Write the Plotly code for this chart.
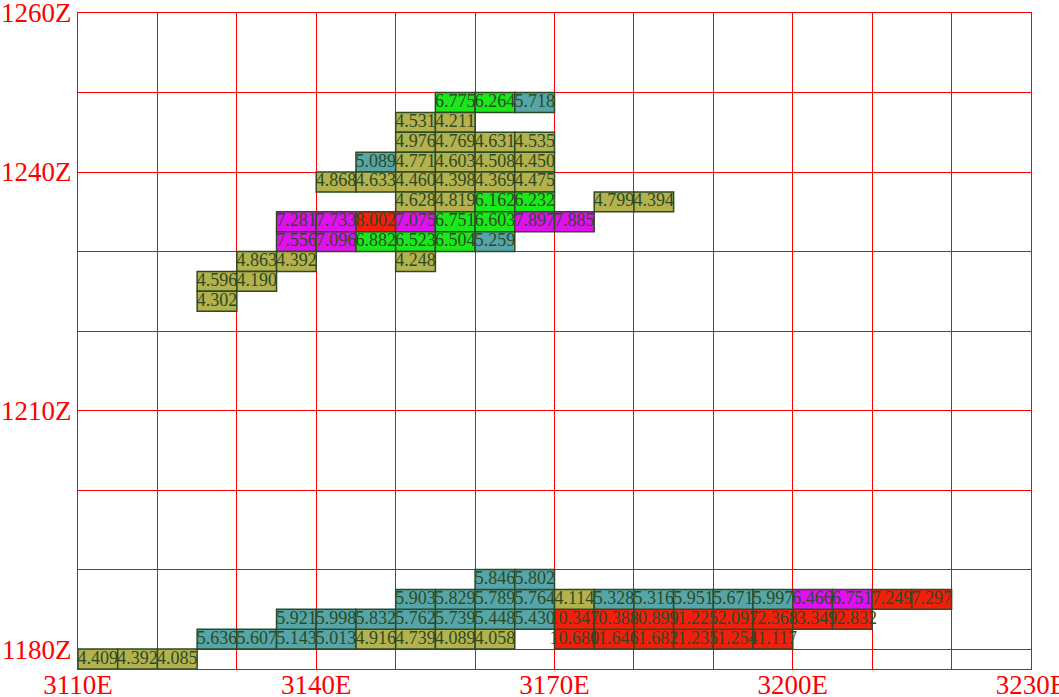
import plotly.graph_objects as go

# ---- data: each row segment = (bottom Z, first-cell left E, values, colour classes)
row_z      = [1177.5, 1180, 1180, 1182.5, 1185, 1187.5,
              1247.5, 1245, 1242.5, 1240, 1237.5, 1235, 1235, 1232.5, 1230, 1227.5, 1227.5, 1225, 1222.5]
row_start  = [3110, 3125, 3170, 3135, 3150, 3160,
              3155, 3150, 3150, 3145, 3140, 3150, 3175, 3135, 3135, 3130, 3150, 3125, 3125]
row_values = [
    [4.409, 4.392, 4.085],
    [5.636, 5.607, 5.143, 5.013, 4.916, 4.739, 4.089, 4.058],
    [10.680, 11.646, 11.682, 11.235, 11.254, 11.117],
    [5.921, 5.998, 5.832, 5.762, 5.739, 5.448, 5.430, 10.347, 10.388, 10.899, 11.225, 12.097, 12.368, 13.349, 12.832],
    [5.903, 5.829, 5.789, 5.764, 4.114, 5.328, 5.316, 5.951, 5.671, 5.997, 6.466, 6.751, 7.249, 7.297],
    [5.846, 5.802],
    [6.775, 6.264, 5.718],
    [4.531, 4.211],
    [4.976, 4.769, 4.631, 4.535],
    [5.089, 4.771, 4.603, 4.508, 4.450],
    [4.868, 4.633, 4.460, 4.398, 4.369, 4.475],
    [4.628, 4.819, 6.162, 6.232],
    [4.799, 4.394],
    [7.281, 7.733, 8.002, 7.075, 6.751, 6.603, 7.897, 7.885],
    [7.556, 7.096, 6.882, 6.523, 6.504, 5.259],
    [4.863, 4.392],
    [4.248],
    [4.596, 4.190],
    [4.302],
]
row_classes = [
    "OOO",
    "TTTTOOOO",
    "RRRRRR",
    "TTTTTTTRRRRRRRR",
    "TTTTOTTTTTMMRR",
    "TT",
    "GGT",
    "OO",
    "OOOO",
    "TOOOO",
    "OOOOOO",
    "OOGG",
    "OO",
    "MMRMGGMM",
    "MMGGGT",
    "OO",
    "O",
    "OO",
    "O",
]
cell_w = 5.0
cell_h = 2.5

class_colors = {"O": "#B3B24E", "T": "#56A5A8", "G": "#1BE81B", "M": "#DF12EF", "R": "#F41E0C"}
ink = "#2D4A24"

xs, bases, cols, txt = [], [], [], []
for z, x0, vals, cls in zip(row_z, row_start, row_values, row_classes):
    for i, (v, c) in enumerate(zip(vals, cls)):
        xs.append(x0 + cell_w * i + cell_w / 2)
        bases.append(z)
        cols.append(class_colors[c])
        txt.append(f"{v:.3f}")

fig = go.Figure()
fig.add_trace(go.Bar(
    x=xs, y=[cell_h] * len(xs), base=bases, width=cell_w,
    marker=dict(color=cols, line=dict(color=ink, width=1.5)),
    hoverinfo="skip", showlegend=False,
))
fig.add_trace(go.Scatter(
    x=xs, y=[b + cell_h / 2 for b in bases], mode="text", text=txt,
    textposition="middle center",
    textfont=dict(family="Liberation Serif", size=18, color=ink),
    hoverinfo="skip", showlegend=False, cliponaxis=False,
))

x_ticks = [3110, 3140, 3170, 3200, 3230]
y_ticks = [1180, 1210, 1240, 1260]
tickfont = dict(family="Liberation Serif", size=27, color="#FF0000")

fig.update_layout(
    width=1059, height=697,
    margin=dict(l=78, r=28, t=13, b=28, autoexpand=False),
    paper_bgcolor="white", plot_bgcolor="white",
    barmode="overlay",
    xaxis=dict(range=[3110, 3230], tickvals=x_ticks, ticktext=[f"{v}E" for v in x_ticks],
               tickfont=tickfont, showgrid=True, gridcolor="#FF0000", gridwidth=1,
               minor=dict(tick0=3110, dtick=10, showgrid=True, gridcolor="#FF0000", gridwidth=1),
               showline=True, linecolor="#FF0000", linewidth=1, mirror=True,
               zeroline=False, ticks="", ticklabelstandoff=-8, ticklabeloverflow="allow",
               automargin=False, fixedrange=True),
    yaxis=dict(range=[1177.5, 1260], tickvals=y_ticks, ticktext=[f"{v}Z" for v in y_ticks],
               tickfont=tickfont, showgrid=True, gridcolor="#FF0000", gridwidth=1,
               minor=dict(tick0=1180, dtick=10, showgrid=True, gridcolor="#FF0000", gridwidth=1),
               showline=True, linecolor="#FF0000", linewidth=1, mirror=True,
               zeroline=False, ticks="", ticklabelstandoff=0, ticklabeloverflow="allow",
               automargin=False, fixedrange=True),
)

fig.write_html("out.html", config={"displayModeBar": False},
               post_script="document.body.style.margin='0';")
